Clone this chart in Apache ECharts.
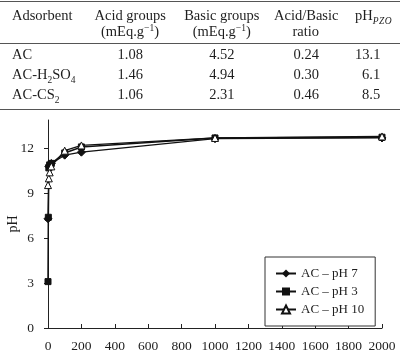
<!DOCTYPE html>
<html>
<head>
<meta charset="utf-8">
<script src="https://cdn.jsdelivr.net/npm/echarts@6/dist/echarts.min.js"></script>
<style>
  html, body { margin: 0; padding: 0; background: #fff; }
  #wrap { position: relative; width: 400px; height: 363px; overflow: hidden; }
  #chart { position: absolute; left: 0; top: 0; width: 400px; height: 363px; }
  #table { position: absolute; left: 0; top: 0; width: 400px; height: 112px; pointer-events: none;
           font-family: 'Liberation Serif', 'Times New Roman', serif; font-size: 14.5px; color: #1e1e1e; }
  .cell { position: absolute; white-space: nowrap; line-height: 16px; }
  .hline { position: absolute; left: 0; width: 400px; height: 1px; background: #555; }
  .sub { font-size: 9.5px; position: relative; top: 4px; }
  .sup { font-size: 9.5px; position: relative; top: -5px; }
  .subi { font-size: 9.5px; font-style: italic; position: relative; top: 4px; letter-spacing: 0.5px; }
</style>
</head>
<body>
<div id="wrap">
  <div id="chart"></div>
  <div id="table"></div>
</div>
<script>
// ---------- table data ----------
const tableHeadLine1 = ['Adsorbent', 'Acid groups', 'Basic groups', 'Acid/Basic', 'pH<span class="subi">PZO</span>'];
const tableHeadLine2 = ['', '(mEq.g<span class="sup">\u22121</span>)', '(mEq.g<span class="sup">\u22121</span>)', 'ratio', ''];
const adsorbents = ['AC', 'AC-H<span class="sub">2</span>SO<span class="sub">4</span>', 'AC-CS<span class="sub">2</span>'];
const acidGroups = [1.08, 1.46, 1.06];
const basicGroups = [4.52, 4.94, 2.31];
const acidBasicRatio = [0.24, 0.30, 0.46];
const phPzc = [13.1, 6.1, 8.5];

// ---------- chart data ----------
const seriesNames = ['AC \u2013 pH 7', 'AC \u2013 pH 3', 'AC \u2013 pH 10'];
const xPH7 = [0, 5, 10, 20, 100, 200, 1000, 2000];
const yPH7 = [7.3, 10.8, 10.9, 11.0, 11.55, 11.75, 12.65, 12.7];
const xPH3 = [0, 2, 5, 10, 20, 100, 200, 1000, 2000];
const yPH3 = [3.1, 7.4, 10.7, 10.9, 11.0, 11.7, 12.1, 12.7, 12.75];
const xPH10 = [0, 5, 10, 20, 100, 200, 1000, 2000];
const yPH10 = [9.55, 10.0, 10.4, 10.8, 11.85, 12.2, 12.7, 12.8];
const xTickLabels = ['0','200','400','600','800','1000','1200','1400','1600','1800','2000'];
const yTickLabels = ['0','3','6','9','12'];

// ---------- build table ----------
(function buildTable() {
  const t = document.getElementById('table');
  const colX = [12, 130, 221.7, 306, 380];
  const colAlign = ['left', 'center', 'center', 'center', 'right'];
  function put(html, col, yCenter, leftFixed) {
    const d = document.createElement('div');
    d.className = 'cell';
    d.innerHTML = html;
    t.appendChild(d);
    const w = d.offsetWidth;
    const a = colAlign[col];
    let left = colX[col];
    if (a === 'center') left -= w / 2;
    else if (a === 'right') left -= w;
    if (leftFixed !== undefined) left = leftFixed;
    d.style.left = left + 'px';
    d.style.top = (yCenter - 8) + 'px';
  }
  function line(y) {
    const l = document.createElement('div');
    l.className = 'hline';
    l.style.top = y + 'px';
    t.appendChild(l);
  }
  line(1);
  const headY1 = 15, headY2 = 31;
  tableHeadLine1.forEach((h, i) => { if (h) put(h, i, headY1, i === 4 ? 355 : undefined); });
  tableHeadLine2.forEach((h, i) => { if (h) put(h, i, headY2); });
  line(43);
  const rowY = [54, 74, 94];
  adsorbents.forEach((a, r) => {
    put(a, 0, rowY[r]);
    put(acidGroups[r].toFixed(2), 1, rowY[r]);
    put(basicGroups[r].toFixed(2), 2, rowY[r]);
    put(acidBasicRatio[r].toFixed(2), 3, rowY[r]);
    put(phPzc[r].toFixed(1), 4, rowY[r]);
  });
  line(109);
})();

// ---------- chart ----------
function zip(xs, ys) { return xs.map((x, i) => [x, ys[i]]); }
const serifFont = 'Liberation Serif';
const txtColor = '#1e1e1e';
const chart = echarts.init(document.getElementById('chart'), null, { renderer: 'canvas' });
chart.setOption({
  animation: false,
  backgroundColor: '#fff',
  grid: { left: 48, right: 18, top: 120, bottom: 35, containLabel: false, outerBoundsMode: 'none' },
  legend: {
    orient: 'vertical',
    left: 265, top: 257,
    padding: [10, 11, 10, 10],
    itemWidth: 20, itemHeight: 10, itemGap: 5,
    borderColor: '#333', borderWidth: 1,
    backgroundColor: '#fff',
    textStyle: { fontFamily: serifFont, fontSize: 13, color: txtColor },
    data: seriesNames
  },
  xAxis: {
    type: 'value', min: 0, max: 2000, interval: 200,
    axisLine: { lineStyle: { color: '#222', width: 1 } },
    axisTick: { inside: true, length: 4, lineStyle: { color: '#222' } },
    splitLine: { show: false },
    axisLabel: {
      margin: 11, fontFamily: serifFont, fontSize: 13.5, color: txtColor,
      formatter: function (v) { return xTickLabels[Math.round(v / 200)]; }
    }
  },
  yAxis: {
    type: 'value', min: 0, max: 13.9, interval: 3,
    name: 'pH', nameLocation: 'middle', nameGap: 28, nameMoveOverlap: false,
    nameTextStyle: { fontFamily: serifFont, fontSize: 14, color: txtColor },
    axisLine: { show: true, lineStyle: { color: '#222', width: 1 } },
    axisTick: { show: true, inside: false, length: 4, lineStyle: { color: '#222' } },
    splitLine: { show: false },
    axisLabel: {
      margin: 14, fontFamily: serifFont, fontSize: 13.5, color: txtColor, showMaxLabel: false,
      formatter: function (v) { const i = Math.round(v / 3); return (Math.abs(v - i * 3) < 1e-6 && yTickLabels[i] !== undefined) ? yTickLabels[i] : ''; }
    }
  },
  series: [
    {
      name: seriesNames[0], type: 'line', data: zip(xPH7, yPH7),
      symbol: 'diamond', symbolSize: 8,
      lineStyle: { color: '#111', width: 1.2 },
      itemStyle: { color: '#111', borderColor: '#111' }
    },
    {
      name: seriesNames[1], type: 'line', data: zip(xPH3, yPH3),
      symbol: 'rect', symbolSize: 6,
      lineStyle: { color: '#111', width: 1.5 },
      itemStyle: { color: '#111', borderColor: '#111' }
    },
    {
      name: seriesNames[2], type: 'line', data: zip(xPH10, yPH10),
      symbol: 'triangle', symbolSize: 7,
      lineStyle: { color: '#111', width: 1.2 },
      itemStyle: { color: '#fff', borderColor: '#111', borderWidth: 1 }
    }
  ]
});
</script>
</body>
</html>
